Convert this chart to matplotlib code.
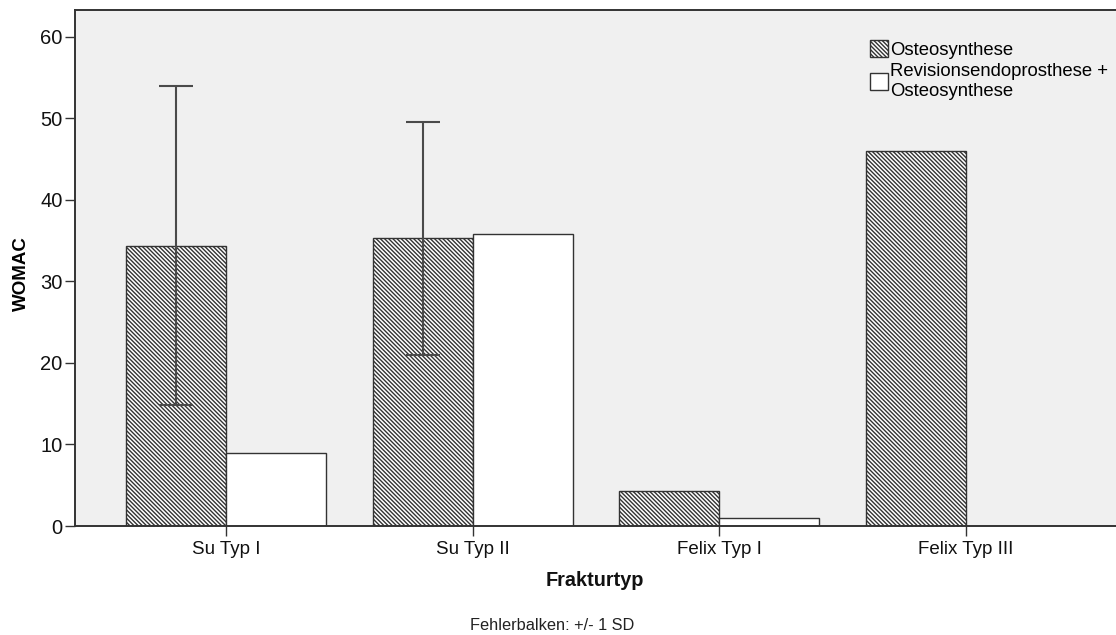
import numpy as np
import matplotlib
matplotlib.use("Agg")
import matplotlib.pyplot as plt
from matplotlib.patches import Patch

plt.rcParams['font.family'] = ['Liberation Sans', 'DejaVu Sans']
plt.rcParams['hatch.linewidth'] = 1.0

categories = ["Su Typ I", "Su Typ II", "Felix Typ I", "Felix Typ III"]
series_names = ["Osteosynthese", "Revisionsendoprosthese +\nOsteosynthese"]
osteo_mean = [34.4, 35.3, 4.3, 46.0]
osteo_sd = [19.6, 14.3, np.nan, np.nan]
revision_mean = [9.0, 35.8, 1.0, np.nan]
y_ticks = [0, 10, 20, 30, 40, 50, 60]

fig = plt.figure(figsize=(11.16, 6.35), dpi=100)
ax = fig.add_axes([75 / 1116, 1 - 526 / 635, 1 - 75 / 1116, 516 / 635])
ax.set_facecolor("#f0f0f0")

x = np.arange(len(categories))
w = 0.405
edge = "#333333"
hatch = "\\" * 8

ax.bar(x - w / 2, osteo_mean, width=w, facecolor="white", edgecolor=edge,
       hatch=hatch, linewidth=1.0, zorder=2)
ax.bar(x + w / 2, np.nan_to_num(revision_mean), width=w, facecolor="white",
       edgecolor=edge, linewidth=1.0, zorder=2)
ax.errorbar(x - w / 2, osteo_mean, yerr=osteo_sd, fmt="none", ecolor="#4a4a4a",
            elinewidth=1.5, capsize=12, capthick=1.5, zorder=3)

ax.set_xlim(-0.612, 3.608)
ax.set_ylim(0, 63.3)
ax.set_yticks(y_ticks)
ax.set_xticks(x)
ax.set_xticklabels(categories)
ax.tick_params(axis="both", direction="out", length=7, width=1.0,
               color="#333333", labelcolor="#111111")
ax.tick_params(axis="x", pad=4, labelsize=13.5)
ax.tick_params(axis="y", pad=2, labelsize=14.5)

for side in ("left", "bottom", "top"):
    ax.spines[side].set_linewidth(1.4)
    ax.spines[side].set_color("#333333")
ax.spines["right"].set_visible(False)

ax.set_ylabel("WOMAC", fontsize=13.5, fontweight="bold")
ax.yaxis.set_label_coords(-0.043, 0.49)
fig.text(595 / 1116, 1 - 580 / 635, "Frakturtyp", fontsize=14.3,
         fontweight="bold", ha="center", va="center", color="#111111")
fig.text(552 / 1116, 1 - 625 / 635, "Fehlerbalken: +/- 1 SD", fontsize=11.8,
         ha="center", va="center", color="#222222")

handles = [Patch(facecolor="white", edgecolor=edge, hatch=hatch, linewidth=1.0),
           Patch(facecolor="white", edgecolor=edge, linewidth=1.0)]
ax.legend(handles, series_names, loc="upper left",
          bbox_to_anchor=((870 - 75) / 1041, (526 - 40) / 516),
          frameon=False, fontsize=13.3, handlelength=1.0, handleheight=1.0,
          handletextpad=0.1, labelspacing=0.25, borderpad=0, borderaxespad=0)

fig.savefig("out.png", dpi=100)
